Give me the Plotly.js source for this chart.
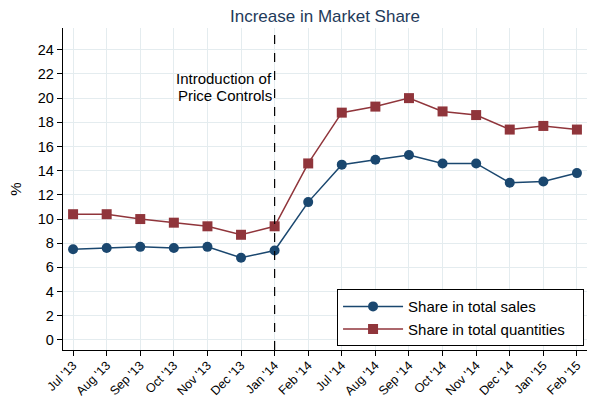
<!DOCTYPE html>
<html>
<head>
<meta charset="utf-8">
<script src="https://cdn.plot.ly/plotly-3.0.1.min.js"></script>
<style>html,body{margin:0;padding:0;background:#fff;}#chart{width:599px;height:397px;}</style>
</head>
<body>
<div id="chart"></div>
<script>
const categories = ["Jul '13","Aug '13","Sep '13","Oct '13","Nov '13","Dec '13","Jan '14","Feb '14","Jul '14","Aug '14","Sep '14","Oct '14","Nov '14","Dec '14","Jan '15","Feb '15"];
const shareSales = [7.5, 7.6, 7.7, 7.6, 7.7, 6.8, 7.4, 11.4, 14.5, 14.9, 15.3, 14.6, 14.6, 13.0, 13.1, 13.8];
const shareQuantities = [10.4, 10.4, 10.0, 9.7, 9.4, 8.7, 9.4, 14.6, 18.8, 19.3, 20.0, 18.9, 18.6, 17.4, 17.7, 17.4];
const yTicks = [0,2,4,6,8,10,12,14,16,18,20,22,24];
const controlIndex = 6;
const noteLines = ['Introduction of', 'Price Controls'];

const navy = '#1a476f', maroon = '#90353b';
const font = 'Liberation Sans, Arial, sans-serif';

const traces = [
  {x: categories, y: shareSales, name: 'Share in total sales', type: 'scatter', mode: 'lines+markers',
   line: {color: navy, width: 1.5}, marker: {color: navy, symbol: 'circle', size: 10}},
  {x: categories, y: shareQuantities, name: 'Share in total quantities&nbsp;&nbsp;&nbsp;', type: 'scatter', mode: 'lines+markers',
   line: {color: maroon, width: 1.5}, marker: {color: maroon, symbol: 'square', size: 10}}
];

const layout = {
  width: 599, height: 397,
  margin: {l: 63, r: 12, t: 28, b: 47},
  paper_bgcolor: '#fff', plot_bgcolor: '#fff',
  font: {family: font, color: '#000'},
  title: {text: 'Increase in Market Share', font: {size: 17, color: '#1e3a5a', family: font}, xref: 'paper', x: 0.5, xanchor: 'center', y: 0.96, yanchor: 'middle'},
  xaxis: {type: 'category', range: [-0.3, 15.3], tickangle: -45, tickfont: {size: 12.5, color: '#000'}, ticklabelstandoff: -3,
    showgrid: true, gridcolor: '#e4ecef', gridwidth: 1, showline: true, linecolor: '#000', linewidth: 1.2,
    ticks: 'outside', ticklen: 5, tickcolor: '#000', zeroline: false, fixedrange: true},
  yaxis: {range: [-0.83, 25.8], tickvals: yTicks, ticktext: yTicks.map(String), tickfont: {size: 14.5, color: '#000'},
    showgrid: true, gridcolor: '#e4ecef', gridwidth: 1, showline: true, linecolor: '#000', linewidth: 1.2,
    ticks: 'outside', ticklen: 5, tickcolor: '#000', zeroline: false,
    title: {text: '%', font: {size: 15, color: '#000'}, standoff: 12}},
  shapes: [{type: 'line', xref: 'x', yref: 'paper', x0: categories[controlIndex], x1: categories[controlIndex], y0: 0, y1: 1,
    line: {color: '#000', width: 1.2, dash: 'dash'}}],
  annotations: [
    {xref: 'x', yref: 'y', x: categories[controlIndex], y: 21.6, xanchor: 'right', yanchor: 'middle', xshift: -1,
     text: noteLines[0], showarrow: false, align: 'right', font: {size: 15, color: '#000'}, height: 15},
    {xref: 'x', yref: 'y', x: categories[controlIndex], y: 20.25, xanchor: 'right', yanchor: 'middle', xshift: -1,
     text: noteLines[1], showarrow: false, align: 'right', font: {size: 15, color: '#000'}, height: 15}
  ],
  legend: {x: 0.523, y: 0.012, xanchor: 'left', yanchor: 'bottom', bordercolor: '#000', borderwidth: 1, bgcolor: '#fff',
    font: {size: 15, color: '#000'}, itemwidth: 60, tracegroupgap: 0},
  showlegend: true
};

Plotly.newPlot('chart', traces, layout, {displayModeBar: false, staticPlot: true});
</script>
</body>
</html>
